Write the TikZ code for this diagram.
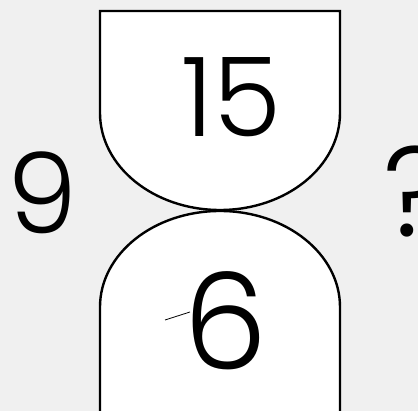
\documentclass[tikz,border=0pt]{standalone}
\usepackage{fontspec}
\newfontfamily\hand{Poppins}[UprightFont=* Light]
\definecolor{bg}{HTML}{F0F0F0}
\tikzset{
  cupshape/.style={draw=black, line width=2.4pt, fill=white},
  digit/.style={inner sep=0pt, text=black},
}
\begin{document}
\begin{tikzpicture}[x=1pt,y=-1pt]
\useasboundingbox (0,0) rectangle (418,411);
\clip (0,0) rectangle (418,411);
\fill[bg] (0,0) rectangle (418,411);
% top cup
\draw[cupshape] (100,11) -- (340,11) -- (340,113)
  arc[start angle=0, end angle=180, x radius=120, y radius=97] -- cycle;
% bottom cup
\draw[cupshape] (100,412) -- (100,307)
  arc[start angle=180, end angle=360, x radius=120, y radius=96] -- (340,412);
\node[digit, font=\hand\fontsize{110}{110}\selectfont] (top) at (231,97) {15};
\node[digit, font=\hand\fontsize{134}{134}\selectfont] (bot) at (226,321) {6};
\node[digit, font=\hand\fontsize{112}{112}\selectfont] (left) at (42,193) {9};
\node[digit, font=\hand\fontsize{128}{128}\selectfont] (right) at (416,192) {?};
\coordinate (d1) at (165,320);
\coordinate (d2) at (190,312);
\draw[line width=0.8pt] (d1) -- (d2);
\end{tikzpicture}
\end{document}
